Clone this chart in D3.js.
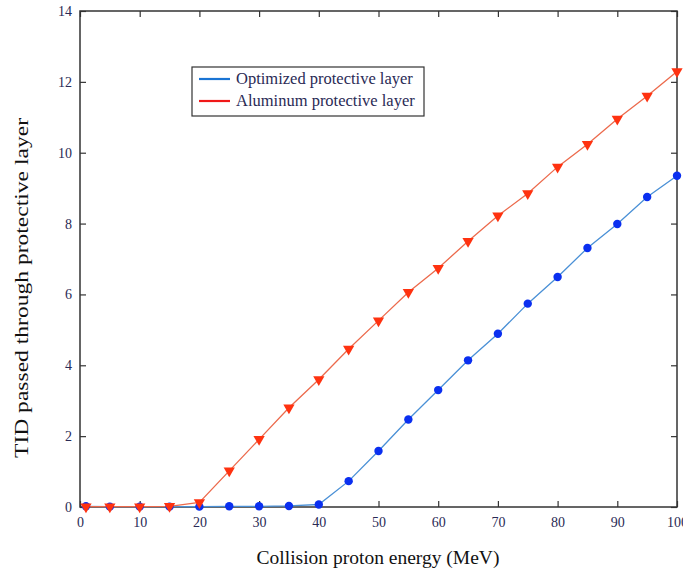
<!DOCTYPE html>
<html>
<head>
<meta charset="utf-8">
<script src="https://cdn.jsdelivr.net/npm/d3@7"></script>
<style>
  body { margin: 0; background: #fff; }
  text { font-family: "Liberation Serif", "Times New Roman", serif; }
</style>
</head>
<body>
<svg width="683" height="573"></svg>
<script>
// proton energy (MeV) and TID values
var energy = [1, 5, 10, 15, 20, 25, 30, 35, 40, 45, 50, 55, 60, 65, 70, 75, 80, 85, 90, 95, 100];
var optimized = [0.02, 0.01, 0.01, 0.01, 0.01, 0.02, 0.02, 0.03, 0.07, 0.73, 1.58, 2.47, 3.3, 4.14, 4.89, 5.74, 6.49, 7.31, 7.99, 8.75, 9.35];
var aluminum = [0.01, 0.01, 0.01, 0.02, 0.13, 1.02, 1.91, 2.8, 3.6, 4.46, 5.26, 6.06, 6.74, 7.5, 8.22, 8.85, 9.6, 10.24, 10.95, 11.6, 12.29];
var xTicks = [0, 10, 20, 30, 40, 50, 60, 70, 80, 90, 100];
var yTicks = [0, 2, 4, 6, 8, 10, 12, 14];
var legendNames = ["Optimized protective layer", "Aluminum protective layer"];

var svg = d3.select("svg"),
    plotLeft = 80, plotRight = 677, plotTop = 11, plotBottom = 507,
    tickLen = 6,
    textColor = "#2a2a55";

var x = d3.scaleLinear().domain([0, 100]).range([plotLeft, plotRight]);
var y = d3.scaleLinear().domain([0, 14]).range([plotBottom, plotTop]);

var g = svg.append("g");

// axes with inward ticks, mirrored on top and right
function styleAxis(sel) {
  sel.select(".domain").remove();
  sel.selectAll(".tick line").attr("stroke", "#333").attr("stroke-width", 1.2);
  sel.selectAll(".tick text").attr("fill", textColor).style("font-size", "14px");
}

g.append("g").attr("transform", "translate(0," + plotBottom + ")")
  .call(d3.axisBottom(x).tickValues(xTicks).tickSizeInner(-tickLen).tickSizeOuter(0).tickPadding(10))
  .call(styleAxis);
g.append("g").attr("transform", "translate(" + plotLeft + ",0)")
  .call(d3.axisLeft(y).tickValues(yTicks).tickSizeInner(-tickLen).tickSizeOuter(0).tickPadding(8))
  .call(styleAxis);
g.append("g").attr("transform", "translate(0," + plotTop + ")")
  .call(d3.axisTop(x).tickValues(xTicks).tickSizeInner(-tickLen).tickSizeOuter(0).tickFormat(""))
  .call(styleAxis);
g.append("g").attr("transform", "translate(" + plotRight + ",0)")
  .call(d3.axisRight(y).tickValues(yTicks).tickSizeInner(-tickLen).tickSizeOuter(0).tickFormat(""))
  .call(styleAxis);

g.append("rect")
  .attr("x", plotLeft).attr("y", plotTop)
  .attr("width", plotRight - plotLeft).attr("height", plotBottom - plotTop)
  .attr("fill", "none").attr("stroke", "#333").attr("stroke-width", 1.5);

var line = d3.line().x(function(d) { return x(d[0]); }).y(function(d) { return y(d[1]); });

var blueData = energy.map(function(e, i) { return [e, optimized[i]]; });
var redData = energy.map(function(e, i) { return [e, aluminum[i]]; });

g.append("path").datum(blueData).attr("d", line)
  .attr("fill", "none").attr("stroke", "#4a90d6").attr("stroke-width", 1.3);
g.append("path").datum(redData).attr("d", line)
  .attr("fill", "none").attr("stroke", "#ec6a4c").attr("stroke-width", 1.3);

g.selectAll(".dot").data(blueData).enter().append("circle")
  .attr("class", "dot")
  .attr("cx", function(d) { return x(d[0]); })
  .attr("cy", function(d) { return y(d[1]); })
  .attr("r", 4.2)
  .attr("fill", "#0a2ff0");

var tri = d3.symbol().type(d3.symbolTriangle).size(55);
g.selectAll(".tri").data(redData).enter().append("path")
  .attr("class", "tri")
  .attr("d", tri)
  .attr("transform", function(d) { return "translate(" + x(d[0]) + "," + y(d[1]) + ") rotate(180)"; })
  .attr("fill", "#ff3210");

// legend
var leg = g.append("g").attr("transform", "translate(192,67)");
leg.append("rect").attr("width", 232).attr("height", 49)
  .attr("fill", "#fff").attr("stroke", "#333").attr("stroke-width", 1.2);
var legColors = ["#1a74d4", "#f01818"];
legendNames.forEach(function(name, i) {
  var yy = 12 + i * 22;
  leg.append("line").attr("x1", 7).attr("x2", 38).attr("y1", yy).attr("y2", yy)
    .attr("stroke", legColors[i]).attr("stroke-width", 2.2);
  leg.append("text").attr("x", 44).attr("y", yy + 5)
    .attr("fill", textColor).style("font-size", "16.5px").text(name);
});

// axis labels
svg.append("text")
  .attr("x", 378).attr("y", 564)
  .attr("text-anchor", "middle").attr("fill", "#111")
  .style("font-size", "19.5px")
  .text("Collision proton energy (MeV)");
svg.append("text")
  .attr("transform", "translate(28,288) rotate(-90)")
  .attr("text-anchor", "middle").attr("fill", "#111")
  .attr("textLength", 340).attr("lengthAdjust", "spacingAndGlyphs")
  .style("font-size", "18px")
  .text("TID passed through protective layer");
</script>
</body>
</html>
